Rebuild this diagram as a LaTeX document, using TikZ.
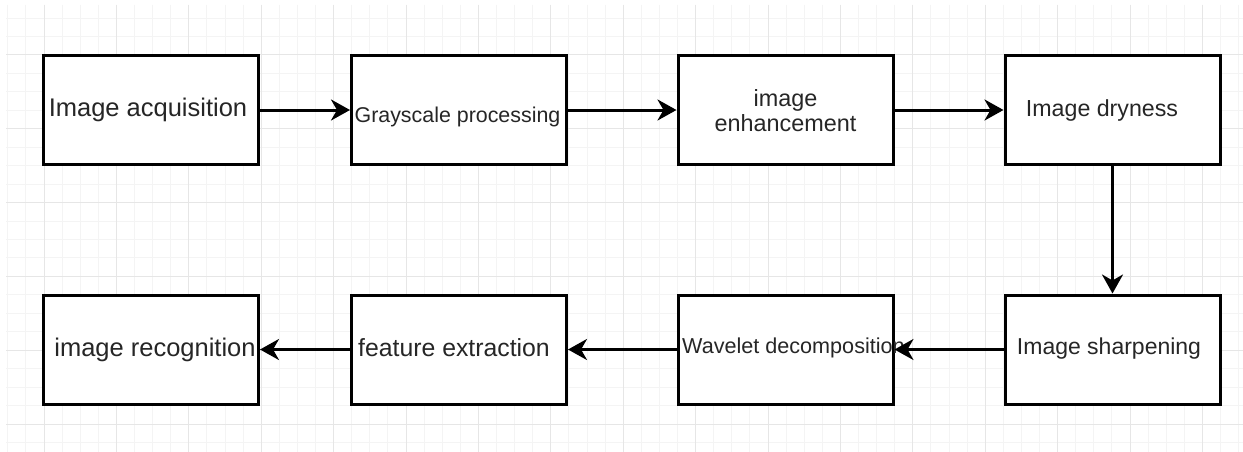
\documentclass[tikz,border=0pt]{standalone}
\usepackage{fontspec}
\setmainfont{Liberation Sans}
\usetikzlibrary{arrows.meta}
\newcommand\fsz[1]{\fontsize{#1pt}{#1pt}\selectfont}
\definecolor{gridminor}{HTML}{F4F4F4}
\definecolor{gridmajor}{HTML}{E6E6E6}
\begin{document}
\begin{tikzpicture}[x=1pt,y=-1pt,
  box/.style={draw=black, line width=3pt, fill=white, minimum width=215pt, minimum height=109pt, inner sep=0pt},
  lbl/.style={anchor=base, text=black!85, inner sep=0pt},
  conn/.style={line width=3pt, -{Stealth[length=19pt,width=21pt,inset=6pt]}}]
\useasboundingbox (0,0) rectangle (1243,452);
\fill[white] (0,0) rectangle (1243,452);
% grid
\begin{scope}
\clip (6,5) rectangle (1243,452);
\foreach \i in {-2,...,66} {
  \draw[gridminor, line width=1pt] ({44+18.1*\i},5) -- ({44+18.1*\i},452);
}
\foreach \j in {-2,...,21} {
  \draw[gridminor, line width=1pt] (6,{55+18.45*\j}) -- (1243,{55+18.45*\j});
}
\foreach \i in {0,...,16} {
  \draw[gridmajor, line width=1pt] ({44+72.4*\i},5) -- ({44+72.4*\i},452);
}
\foreach \j in {0,...,5} {
  \draw[gridmajor, line width=1pt] (6,{55+73.8*\j}) -- (1243,{55+73.8*\j});
}
\end{scope}
% boxes
\node[box] (acq) at (151,110) {};
\node[box] (gray) at (459,110) {};
\node[box] (enh) at (785.5,110) {};
\node[box] (dry) at (1112.5,110) {};
\node[box] (rec) at (151,349.5) {};
\node[box] (feat) at (459,349.5) {};
\node[box] (wav) at (785.5,349.5) {};
\node[box] (sharp) at (1112.5,349.5) {};
% labels
\node[lbl, font=\fsz{25.5}] (tacq) at (148,117) {Image acquisition};
\node[lbl, font=\fsz{21.4}] (tgray) at (457.5,122) {Grayscale processing};
\node[lbl, font=\fsz{23.4}] (tenh1) at (785.5,106.5) {image};
\node[lbl, font=\fsz{23.4}] (tenh2) at (785.5,131.5) {enhancement};
\node[lbl, font=\fsz{23.2}] (tdry) at (1102,116) {Image dryness};
\node[lbl, font=\fsz{25.5}] (trec) at (155,356) {image recognition};
\node[lbl, font=\fsz{24.8}] (tfeat) at (454,356) {feature extraction};
\node[lbl, font=\fsz{21.6}, anchor=base west] (twav) at (682,353) {Wavelet decomposition};
\node[lbl, font=\fsz{23}] (tsharp) at (1109,354) {Image sharpening};
% connectors
\draw[conn] (acq.east) -- (gray.west);
\draw[conn] (gray.east) -- (enh.west);
\draw[conn] (enh.east) -- (dry.west);
\draw[conn] (dry.south) -- (sharp.north);
\draw[conn] (sharp.west) -- (wav.east);
\draw[conn] (wav.west) -- (feat.east);
\draw[conn] (feat.west) -- (rec.east);
\end{tikzpicture}
\end{document}
